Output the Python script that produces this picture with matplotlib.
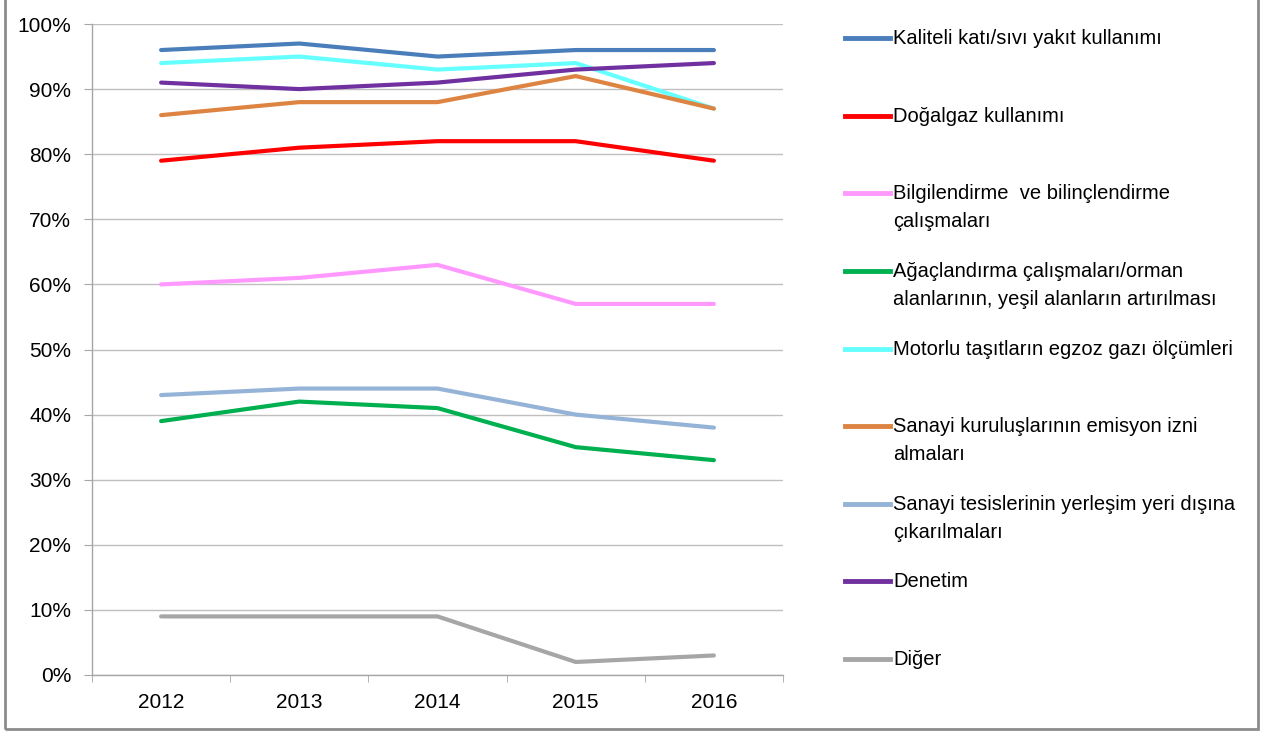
import matplotlib.pyplot as plt
from matplotlib.lines import Line2D
from matplotlib.patches import Rectangle
from matplotlib.ticker import FuncFormatter, FixedLocator

plt.rcParams['font.family'] = ['Liberation Sans', 'DejaVu Sans']

# dados
yillar = ["2012", "2013", "2014", "2015", "2016"]

kaliteli = [96, 97, 95, 96, 96]
dogalgaz = [79, 81, 82, 82, 79]
bilgilendirme = [60, 61, 63, 57, 57]
agaclandirma = [39, 42, 41, 35, 33]
motorlu = [94, 95, 93, 94, 87]
sanayi_emisyon = [86, 88, 88, 92, 87]
sanayi_tesis = [43, 44, 44, 40, 38]
denetim = [91, 90, 91, 93, 94]
diger = [9, 9, 9, 2, 3]

seriler = [
    ("Kaliteli katı/sıvı yakıt kullanımı", kaliteli, "#4A7EBB"),
    ("Doğalgaz kullanımı", dogalgaz, "#FF0000"),
    ("Bilgilendirme  ve bilinçlendirme\nçalışmaları", bilgilendirme, "#FF99FF"),
    ("Ağaçlandırma çalışmaları/orman\nalanlarının, yeşil alanların artırılması", agaclandirma, "#00B050"),
    ("Motorlu taşıtların egzoz gazı ölçümleri", motorlu, "#66FFFF"),
    ("Sanayi kuruluşlarının emisyon izni\nalmaları", sanayi_emisyon, "#DD8442"),
    ("Sanayi tesislerinin yerleşim yeri dışına\nçıkarılmaları", sanayi_tesis, "#95B3D7"),
    ("Denetim", denetim, "#7030A0"),
    ("Diğer", diger, "#A6A6A6"),
]

W, H = 1261, 733
fig = plt.figure(figsize=(W / 100, H / 100), dpi=100)

# eixos em pixels
x0, x1, ytop, ybot = 92, 783, 24, 675
ax = fig.add_axes([x0 / W, 1 - ybot / H, (x1 - x0) / W, (ybot - ytop) / H])

x = list(range(len(yillar)))
for nome, valores, cor in seriler:
    ax.plot(x, valores, color=cor, lw=3, solid_capstyle="round", solid_joinstyle="round", zorder=3)

ax.set_xlim(-0.5, len(yillar) - 0.5)
ax.set_ylim(0, 100)
ax.yaxis.set_major_locator(FixedLocator(range(0, 101, 10)))
ax.yaxis.set_major_formatter(FuncFormatter(lambda v, p: f"{int(v)}%"))
ax.set_xticks(x)
ax.set_xticklabels(yillar)
ax.xaxis.set_minor_locator(FixedLocator([i - 0.5 for i in range(len(yillar) + 1)]))

ax.grid(axis="y", color="#BFBFBF", lw=1)
ax.set_axisbelow(True)
for lado in ["top", "right"]:
    ax.spines[lado].set_visible(False)
for lado in ["left", "bottom"]:
    ax.spines[lado].set_color("#A6A6A6")
    ax.spines[lado].set_linewidth(1)

ax.tick_params(axis="y", length=6, color="#A6A6A6", labelsize=15, pad=9)
ax.tick_params(axis="x", which="major", length=0, labelsize=15, pad=13)
ax.tick_params(axis="x", which="minor", length=5, color="#A6A6A6")

# legenda manual
leg_y = [38, 116, 193, 271, 349, 426, 504, 581, 659]
for (nome, valores, cor), yy in zip(seriler, leg_y):
    fy = 1 - yy / H
    fig.add_artist(Line2D([845 / W, 890 / W], [fy, fy], color=cor, lw=3.5, transform=fig.transFigure))
    fig.text(893 / W, 1 - (yy - 9) / H, nome, fontsize=14.5, va="top", ha="left",
             linespacing=1.6)

# moldura
fig.add_artist(Rectangle((5 / W, 4 / H), 1253 / W, 1.2, fill=False, edgecolor="#8C8C8C",
                         lw=2, transform=fig.transFigure))

fig.savefig("out.png", dpi=100)
